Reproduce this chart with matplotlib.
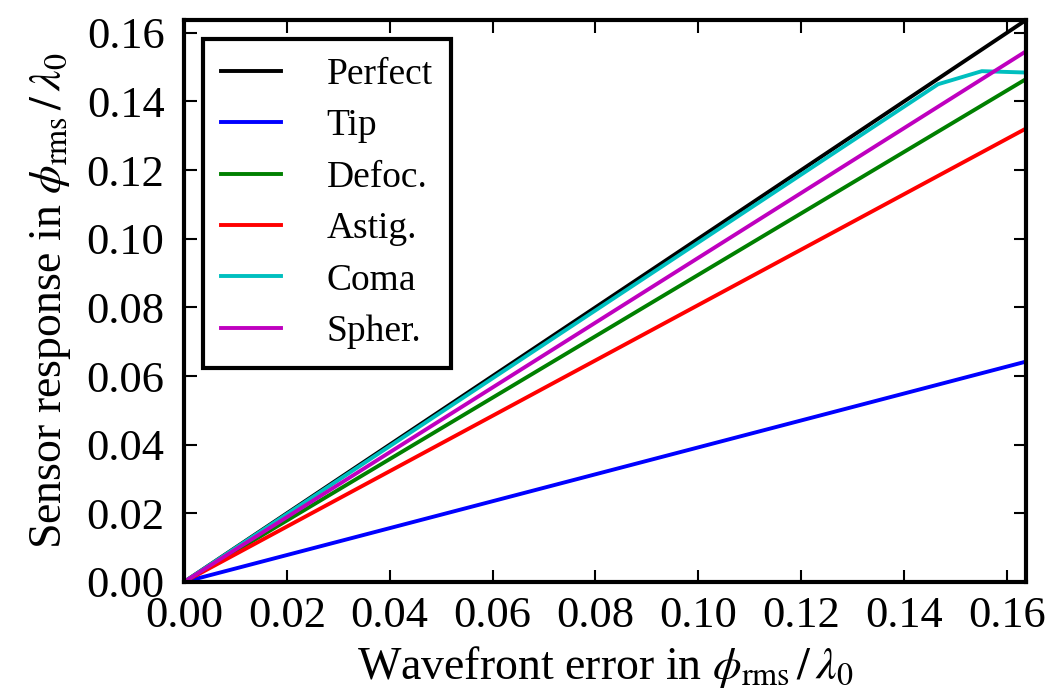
import matplotlib
matplotlib.use('Agg')
import matplotlib.pyplot as plt

plt.rcParams['font.family'] = 'serif'
plt.rcParams['font.serif'] = ['Liberation Serif', 'DejaVu Serif']
plt.rcParams['mathtext.fontset'] = 'stix'

# wavefront error (x) and sensor response (y), in phi_rms / lambda_0
x_lin = [0.0, 0.1637]
perfect = [0.0, 0.1637]
tip = [0.0, 0.0642]
defoc = [0.0, 0.1465]
astig = [0.0, 0.1321]
spher = [0.0, 0.1546]

x_coma = [0.0, 0.1466, 0.1551, 0.1637]
coma = [0.0, 0.1450, 0.1488, 0.1484]

fig = plt.figure(figsize=(10.53, 6.95), dpi=100)
ax = fig.add_axes([0.1747, 0.1626, 0.7997, 0.8086])

lw = 2.8
ax.plot(x_lin, perfect, color='k', lw=lw, label='Perfect')
ax.plot(x_lin, tip, color='b', lw=lw, label='Tip')
ax.plot(x_lin, defoc, color='g', lw=lw, label='Defoc.')
ax.plot(x_lin, astig, color='r', lw=lw, label='Astig.')
ax.plot(x_coma, coma, color='c', lw=lw, label='Coma')
ax.plot(x_lin, spher, color='m', lw=lw, label='Spher.')

ax.set_xlim(0, 0.1637)
ax.set_ylim(0, 0.1637)
ticks = [0.0, 0.02, 0.04, 0.06, 0.08, 0.10, 0.12, 0.14, 0.16]
ax.set_xticks(ticks)
ax.set_yticks(ticks)
ax.set_xticklabels(['%.2f' % t for t in ticks])
ax.set_yticklabels(['%.2f' % t for t in ticks])
ax.tick_params(direction='in', top=True, right=True, length=9, width=1.5,
               labelsize=32)
ax.tick_params(axis='y', pad=14)
ax.tick_params(axis='x', pad=10)
for s in ax.spines.values():
    s.set_linewidth(3)

ax.set_xlabel(r'Wavefront error in $\phi_{\mathrm{rms}}\,/\,\lambda_0$', fontsize=33,
              labelpad=6)
ax.set_ylabel(r'Sensor response in $\phi_{\mathrm{rms}}\,/\,\lambda_0$', fontsize=33,
              labelpad=10)

leg = ax.legend(loc='upper left', fontsize=27, frameon=True, fancybox=False,
                framealpha=1, handlelength=1.6, handletextpad=1.2,
                labelspacing=0.45, borderpad=0.5, borderaxespad=0.5)
leg.get_frame().set_edgecolor('k')
leg.get_frame().set_linewidth(3)

fig.savefig('out.png', dpi=100, facecolor='white')
